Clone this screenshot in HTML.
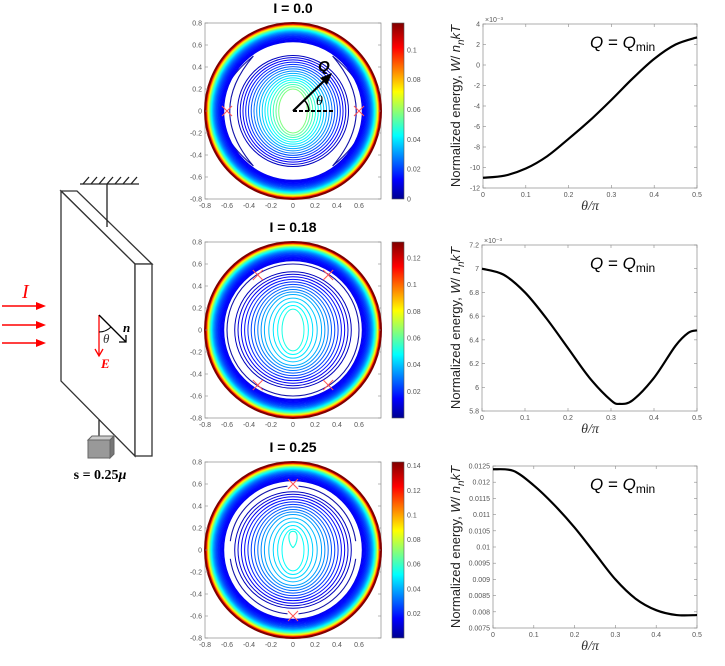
<!DOCTYPE html>
<html><head><meta charset="utf-8"><style>
body{margin:0;background:#fff;}
svg{display:block;font-family:"Liberation Sans",sans-serif;}
.tk{font-size:7px;fill:#555;}
</style></head><body>
<svg id="fig" width="725" height="666" viewBox="0 0 725 666" xmlns="http://www.w3.org/2000/svg">
<g id="diagram">
  <g stroke="#333" stroke-width="1.3" fill="#fff">
    <polygon points="61,191 77,191 152,264 135,264"/>
    <polygon points="61,191 135,264 135,456 61,381"/>
    <rect x="135" y="264" width="17" height="192"/>
  </g>
  <g stroke="#222" stroke-width="1.3">
    <line x1="80" y1="184" x2="139" y2="184"/>
    <line x1="107" y1="184" x2="107" y2="227"/>
    <path d="M83,184 l6,-7 M91,184 l6,-7 M99,184 l6,-7 M107,184 l6,-7 M115,184 l6,-7 M123,184 l6,-7 M131,184 l6,-7"/>
    <line x1="99" y1="420" x2="99" y2="437"/>
  </g>
  <g>
    <rect x="88" y="440" width="22" height="18" fill="#999" stroke="#666"/>
    <polygon points="88,440 92,436 114,436 110,440" fill="#ccc" stroke="#666"/>
    <polygon points="110,440 114,436 114,454 110,458" fill="#777" stroke="#666"/>
  </g>
  <text x="100" y="479" text-anchor="middle" font-family="Liberation Serif,serif" font-weight="bold" font-size="14">s = 0.25<tspan font-style="italic">μ</tspan></text>
  <g stroke="red" stroke-width="1.5" fill="red">
    <line x1="2" y1="306" x2="38" y2="306"/><polygon points="46,306 36,302 36,310" stroke="none"/>
    <line x1="2" y1="325" x2="38" y2="325"/><polygon points="46,325 36,321 36,329" stroke="none"/>
    <line x1="2" y1="343" x2="38" y2="343"/><polygon points="46,343 36,339 36,347" stroke="none"/>
  </g>
  <text x="22" y="298" fill="red" font-family="Liberation Serif,serif" font-style="italic" font-size="20">I</text>
  <line x1="99" y1="315" x2="99" y2="355" stroke="red" stroke-width="1.3"/>
  <path d="M95,349 L99,356 L103,349" fill="none" stroke="red" stroke-width="1.3"/>
  <text x="101" y="368" fill="red" font-family="Liberation Serif,serif" font-style="italic" font-weight="bold" font-size="13">E</text>
  <line x1="99" y1="315" x2="126" y2="342" stroke="#000" stroke-width="1.3"/>
  <path d="M119,342 L126,342 L126,335" fill="none" stroke="#000" stroke-width="1.3"/>
  <path d="M99,332 A17,17 0 0 0 111,327" fill="none" stroke="#000" stroke-width="1"/>
  <text x="123" y="332" font-family="Liberation Serif,serif" font-style="italic" font-weight="bold" font-size="13">n</text>
  <text x="103" y="343" font-family="Liberation Serif,serif" font-style="italic" font-size="13" fill="#333">θ</text>
</g>
<defs>
  <linearGradient id="jet" x1="0" y1="1" x2="0" y2="0">
    <stop offset="0" stop-color="#00008f"/><stop offset="0.11" stop-color="#0000ff"/>
    <stop offset="0.36" stop-color="#00ffff"/><stop offset="0.61" stop-color="#ffff00"/>
    <stop offset="0.86" stop-color="#ff0000"/><stop offset="1" stop-color="#800000"/>
  </linearGradient>
</defs>
<g id="contours"></g>
<g id="lines"></g>
</svg>
<script>
// ---------- line chart data ----------
const thetaA = [0,0.05,0.1,0.15,0.2,0.25,0.3,0.35,0.4,0.45,0.5];
const energyA = [-11,-10.8,-10.1,-8.9,-7.2,-5.4,-3.4,-1.3,0.6,2.0,2.7];
const thetaB = [0,0.05,0.1,0.15,0.2,0.25,0.3,0.32,0.35,0.4,0.45,0.48,0.5];
const energyB = [7.0,6.95,6.8,6.58,6.33,6.08,5.89,5.86,5.89,6.08,6.35,6.46,6.48];
const thetaC = [0,0.05,0.1,0.15,0.2,0.25,0.3,0.35,0.4,0.45,0.5];
const energyC = [0.0124,0.01235,0.0119,0.0113,0.0106,0.0098,0.0090,0.0084,0.00805,0.0079,0.0079];
const xTicks = [0,0.1,0.2,0.3,0.4,0.5];
const yTicksA = [-12,-10,-8,-6,-4,-2,0,2,4];
const yTicksB = [5.8,6,6.2,6.4,6.6,6.8,7,7.2];
const yTicksC = [0.0075,0.008,0.0085,0.009,0.0095,0.01,0.0105,0.011,0.0115,0.012,0.0125];
const yLabelsC = ["0.0075","0.008","0.0085","0.009","0.0095","0.01","0.0105","0.011","0.0115","0.012","0.0125"];
// ---------- contour data ----------
const titles = ["I = 0.0","I = 0.18","I = 0.25"];
const cbarTicksA = [0,0.02,0.04,0.06,0.08,0.1];
const cbarTicksB = [0.02,0.04,0.06,0.08,0.1,0.12];
const cbarTicksC = [0.02,0.04,0.06,0.08,0.1,0.12,0.14];
const innerRadiiA = [0.13,0.155,0.18,0.205,0.23,0.255,0.28,0.305,0.33,0.355,0.38,0.405,0.43,0.455,0.48,0.505];
const innerRadiiB = [0.1,0.14,0.18,0.22,0.26,0.29,0.32,0.35,0.38,0.41,0.44,0.47,0.50,0.53];
const innerRadiiC = [0.1,0.14,0.18,0.22,0.26,0.29,0.32,0.35,0.38,0.41,0.44,0.47,0.50,0.53];
const sadA = [[-0.6,0],[0.6,0]];
const sadB = [[-0.32,0.5],[0.32,0.5],[-0.32,-0.5],[0.32,-0.5]];
const sadC = [[0,0.6],[0,-0.6]];

const NS="http://www.w3.org/2000/svg";
function mk(tag,attrs,parent){const e=document.createElementNS(NS,tag);for(const k in attrs)e.setAttribute(k,attrs[k]);parent.appendChild(e);return e;}
function jet(v){v=Math.max(0,Math.min(1,v));
  const r=Math.max(0,Math.min(1,1.5-Math.abs(4*v-3))),g=Math.max(0,Math.min(1,1.5-Math.abs(4*v-2))),b=Math.max(0,Math.min(1,1.5-Math.abs(4*v-1)));
  return `rgb(${Math.round(r*255)},${Math.round(g*255)},${Math.round(b*255)})`;}
function smooth(p){let d=`M${p[0][0]},${p[0][1]}`;
  for(let i=0;i<p.length-1;i++){const p0=p[Math.max(0,i-1)],p1=p[i],p2=p[i+1],p3=p[Math.min(p.length-1,i+2)];
    d+=` C${p1[0]+(p2[0]-p0[0])/6},${p1[1]+(p2[1]-p0[1])/6} ${p2[0]-(p3[0]-p1[0])/6},${p2[1]-(p3[1]-p1[1])/6} ${p2[0]},${p2[1]}`;}
  return d;}

const cg=document.getElementById('contours');
function contourPanel(top,title,cbTicks,cbMax,radii,inCol0,sad,mode){
  const g=mk('g',{},cg);
  
  
  const L=205,R=381,cx=293,cy=top+88,s=110;
  const X=v=>cx+v*s, Y=v=>cy-v*s;
  const t=mk('text',{x:293,y:top-10,'text-anchor':'middle','font-weight':'bold','font-size':14},g);t.textContent=title;
  
  
  mk('rect',{x:L,y:top,width:R-L,height:176,fill:'#fff',stroke:'#999','stroke-width':0.8},g);
  const cl=mk('g',{fill:'none'},g);
  radii.forEach((r,i)=>{
    const f=i/(radii.length-1);
    const col=jet(inCol0*(1-f)+0.06*f);
    const el=mk('ellipse',{cx:cx,cy:cy,rx:r*s,ry:(r+(mode===0?0.07:0.09)*(1-f))*s,stroke:col,'stroke-width':1},cl);
    
    
  });
  if(mode===2){
    mk('path',{d:`M${cx},${Y(0.02)} C${X(-0.04)},${Y(0.06)} ${X(-0.06)},${Y(0.17)} ${cx},${Y(0.17)} C${X(0.06)},${Y(0.17)} ${X(0.04)},${Y(0.06)} ${cx},${Y(0.02)}`,stroke:jet(0.4),'stroke-width':1.1},cl);
  }
  const navy='#1414a8';
  if(mode===0){
    [1,-1].forEach(sx=>{
      mk('path',{d:`M${X(sx*0.36)},${Y(0.5)} Q${X(sx*0.97)},${Y(0)} ${X(sx*0.36)},${Y(-0.5)} Q${X(sx*0.79)},${Y(0)} ${X(sx*0.36)},${Y(0.5)}`,stroke:navy,'stroke-width':1.1},cl);
    });
    [1,-1].forEach(sy=>{
      mk('path',{d:`M${X(-0.3)},${Y(sy*0.58)} Q${cx},${Y(sy*0.82)} ${X(0.3)},${Y(sy*0.58)} Q${cx},${Y(sy*0.7)} ${X(-0.3)},${Y(sy*0.58)}`,stroke:navy,'stroke-width':1.1},cl);
    });
  } else if(mode===1){
    mk('circle',{cx,cy,r:0.6*s,stroke:navy,'stroke-width':1.1},cl);
  } else {
    [1,-1].forEach(sx=>{
      mk('path',{d:`M${X(sx*0.57)},${Y(0.08)} A${0.58*s},${0.58*s} 0 0 ${sx>0?0:1} ${X(sx*0.05)},${Y(0.58)}`,stroke:navy,'stroke-width':1.1},cl);
      mk('path',{d:`M${X(sx*0.57)},${Y(-0.08)} A${0.58*s},${0.58*s} 0 0 ${sx>0?1:0} ${X(sx*0.05)},${Y(-0.58)}`,stroke:navy,'stroke-width':1.1},cl);
    });
  }
  // outer dense ring
  const N=40;
  for(let k=0;k<N;k++){
    const f=k/(N-1);
    const r=0.8-0.17*Math.pow(1-f,1.6);
    const d=(0.8-r)*s;
    const c=mk('circle',{cx,cy,r:r*s,stroke:jet(0.08+0.92*Math.exp(-d/5.5)),'stroke-width':k===N-1?2:1},cl);
    
    
  }
  sad.forEach(([a,b])=>{
    const m=mk('path',{d:`M${X(a)-5},${Y(b)-5} l10,10 M${X(a)+5},${Y(b)-5} l-10,10`,stroke:'#f55','stroke-width':1},g);
    
    
  });
  for(let v=-0.8;v<=0.801;v+=0.2){
    const vv=Math.round(v*10)/10, lab=(vv===0?'0':vv.toFixed(1));
    const ty=mk('text',{x:L-3,y:Y(vv)+2.5,'text-anchor':'end',class:'tk'},g);ty.textContent=lab;
    mk('line',{x1:L,x2:L+3,y1:Y(vv),y2:Y(vv),stroke:'#888','stroke-width':0.6},g);
    mk('line',{x1:R,x2:R-3,y1:Y(vv),y2:Y(vv),stroke:'#888','stroke-width':0.6},g);
    if(vv<0.79){const tx=mk('text',{x:X(vv),y:top+185,'text-anchor':'middle',class:'tk'},g);tx.textContent=lab;}
  }
  mk('rect',{x:392,y:top,width:12,height:176,fill:'url(#jet)',stroke:'#555','stroke-width':0.6},g);
  cbTicks.forEach(v=>{
    const yy=top+176-(v/cbMax)*176;
    const t=mk('text',{x:407,y:yy+2.5,class:'tk','font-size':6},g);t.textContent=String(v);
  });
}
contourPanel(23,titles[0],cbarTicksA,0.118,innerRadiiA,0.5,sadA,0);
contourPanel(242,titles[1],cbarTicksB,0.132,innerRadiiB,0.4,sadB,1);
contourPanel(462,titles[2],cbarTicksC,0.143,innerRadiiC,0.38,sadC,2);

(function(){const g=mk('g',{},cg);
  
  
  mk('line',{x1:293,y1:111,x2:327,y2:78,stroke:'#000','stroke-width':2.2},g);
  mk('polygon',{points:'332,73 320,78 327,85',fill:'#000'},g);
  mk('line',{x1:293,y1:111,x2:334,y2:111,stroke:'#000','stroke-width':2,'stroke-dasharray':'4,2'},g);
  mk('path',{d:'M309,111 A16,16 0 0 0 304,100',fill:'none',stroke:'#000','stroke-width':1.5},g);
  const q=mk('text',{x:318,y:71,'font-size':15,'font-style':'italic','font-weight':'bold'},g);q.textContent='Q';
  const th=mk('text',{x:316,y:105,'font-size':14,'font-style':'italic','font-family':'Liberation Serif,serif'},g);th.textContent='θ';
})();

const lg=document.getElementById('lines');
function linePanel(x0,x1,y0,y1,ymin,ymax,xs,ys,yt,ylab,exp){
  const g=mk('g',{},lg);
  
  
  const X=v=>x0+(v/0.5)*(x1-x0), Y=v=>y1-(v-ymin)/(ymax-ymin)*(y1-y0);
  mk('rect',{x:x0,y:y0,width:x1-x0,height:y1-y0,fill:'#fff',stroke:'#999','stroke-width':0.8},g);
  xTicks.forEach(v=>{
    mk('line',{x1:X(v),x2:X(v),y1:y1,y2:y1-3,stroke:'#888','stroke-width':0.6},g);
    mk('line',{x1:X(v),x2:X(v),y1:y0,y2:y0+3,stroke:'#888','stroke-width':0.6},g);
    const t=mk('text',{x:X(v),y:y1+9,'text-anchor':'middle',class:'tk'},g);t.textContent=String(v);
  });
  yt.forEach((v,i)=>{
    mk('line',{x1:x0,x2:x0+3,y1:Y(v),y2:Y(v),stroke:'#888','stroke-width':0.6},g);
    mk('line',{x1:x1,x2:x1-3,y1:Y(v),y2:Y(v),stroke:'#888','stroke-width':0.6},g);
    const t=mk('text',{x:x0-3,y:Y(v)+2.5,'text-anchor':'end',class:'tk'},g);t.textContent=ylab?ylab[i]:String(v);
  });
  if(exp){const t=mk('text',{x:x0+2,y:y0-2,class:'tk','font-size':6},g);t.textContent='×10⁻³';}
  const p=mk('path',{d:smooth(xs.map((v,i)=>[X(v),Y(ys[i])])),fill:'none',stroke:'#000','stroke-width':2.2},g);
  
  
  const cy=(y0+y1)/2;
  const yl=mk('text',{x:0,y:0,'font-size':13,'text-anchor':'middle',transform:`translate(460,${cy}) rotate(-90)`,fill:'#222'},g);
  yl.innerHTML='Normalized energy,  <tspan font-style="italic">W</tspan>/ <tspan font-style="italic">n</tspan><tspan font-style="italic" dy="4" font-size="10">n</tspan><tspan font-style="italic" dy="-4">kT</tspan>';
  
  
  const ql=mk('text',{x:590,y:y0+24,'font-size':17},g);
  ql.innerHTML='<tspan font-style="italic">Q</tspan> = <tspan font-style="italic">Q</tspan><tspan font-size="12" dy="3">min</tspan>';
  
  
  const xl=mk('text',{x:590,y:y1+22,'text-anchor':'middle','font-size':14,'font-style':'italic','font-family':'Liberation Serif,serif',fill:'#333'},g);
  xl.textContent='θ/π';
  
  
}
linePanel(483,697,24,188,-12,4,thetaA,energyA,yTicksA,null,true);
linePanel(482,697,245,411,5.8,7.2,thetaB,energyB,yTicksB,null,true);
linePanel(493,697,466,628,0.0075,0.0125,thetaC,energyC,yTicksC,yLabelsC,false);
</script>
</body></html>
